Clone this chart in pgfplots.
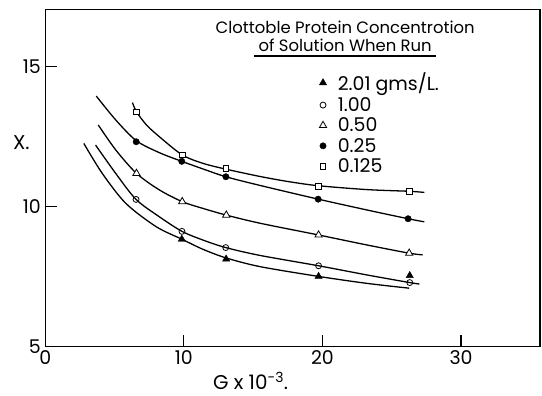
\documentclass[border=0pt]{standalone}
\usepackage{pgfplots}
\pgfplotsset{compat=1.18}
\usepackage{fontspec}
\setmainfont{Poppins}
\begin{document}
\begin{tikzpicture}
\begin{axis}[
  scale only axis, width=494.7bp, height=337.4bp,
  xmin=0, xmax=35.7, ymin=5, ymax=17.05,
  xtick={0,10,20,30}, ytick={5,10,15},
  tick pos=left, tick align=inside, major tick length=12bp,
  axis line style={line width=1.1pt},
  tick style={line width=1.1pt, black},
  ticklabel style={font=\fontsize{19}{19}\selectfont},
  yticklabel style={xshift=-1bp},
  /pgf/number format/assume math mode=true,
  xlabel={G x 10\textsuperscript{-3}.},
  xlabel style={font=\fontsize{20}{20}\selectfont, inner sep=0pt, at={(axis description cs:0.415,0)}, anchor=north, yshift=-25bp},
  ylabel={X.},
  ylabel style={font=\fontsize{20}{20}\selectfont, rotate=-90, at={(axis description cs:0,0.605)}, anchor=center, xshift=-24bp},
  legend style={at={(axis cs:19.72,14.85)}, anchor=north west, draw=none, fill=none,
    font=\fontsize{19}{21}\selectfont, inner sep=0pt, row sep=1pt},
  legend cell align=left,
  legend image code/.code={\draw[#1, only marks] plot coordinates {(0.15cm,0cm)}; \path[draw=none, fill=none] (0cm,0cm) -- (0.60cm,0cm);},
  clip=false,
]
% fitted curves
\addplot[black, line width=1.3pt, smooth, forget plot] coordinates {
(6.29,13.72)(6.58,13.39)(7.3,12.92)(8.23,12.50)(9.88,11.85)(11.37,11.55)(13.04,11.34)(15.49,11.08)(17.5,10.90)(19.69,10.75)(23.24,10.61)(26.27,10.55)(27.35,10.51)};
\addplot[black, line width=1.3pt, smooth, forget plot] coordinates {
(3.68,13.95)(5.08,13.10)(6.56,12.36)(8.23,11.93)(9.85,11.62)(11.37,11.35)(13.03,11.07)(15.49,10.76)(19.69,10.27)(23.24,9.88)(26.18,9.57)(27.35,9.46)};
\addplot[black, line width=1.3pt, smooth, forget plot] coordinates {
(3.82,12.92)(5.08,12.03)(6.58,11.19)(8.23,10.60)(9.88,10.18)(11.37,9.94)(13.06,9.70)(15.49,9.41)(19.72,8.99)(23.24,8.63)(26.26,8.34)(27.23,8.28)};
\addplot[black, line width=1.3pt, smooth, forget plot] coordinates {
(3.63,12.20)(5.08,11.19)(6.55,10.26)(8.23,9.64)(9.86,9.12)(11.37,8.81)(13.02,8.54)(15.49,8.26)(19.72,7.89)(23.24,7.56)(26.3,7.29)(26.99,7.24)};
\addplot[black, line width=1.3pt, smooth, forget plot] coordinates {
(2.78,12.26)(4.11,11.19)(5.81,10.12)(7.99,9.29)(9.85,8.84)(11.37,8.48)(13.05,8.17)(15.49,7.86)(19.72,7.51)(23.24,7.26)(26.26,7.09)};
% data points
\addplot[only marks, mark=triangle*, mark size=4.2pt, black] coordinates {
(9.85,8.84)(13.05,8.13)(19.72,7.51)(26.3,7.54)};
\addlegendentry{2.01 gms/L.}
\addplot[only marks, mark=o, mark size=3pt, black, mark options={fill=white, line width=0.8pt}] coordinates {
(6.55,10.26)(9.86,9.12)(13.02,8.54)(19.72,7.89)(26.3,7.29)};
\addlegendentry{1.00}
\addplot[only marks, mark=triangle*, mark size=4.2pt, black, mark options={fill=white, line width=0.8pt}] coordinates {
(6.58,11.19)(9.88,10.18)(13.06,9.70)(19.72,8.99)(26.26,8.34)};
\addlegendentry{0.50}
\addplot[only marks, mark=*, mark size=3.2pt, black] coordinates {
(6.56,12.32)(9.85,11.62)(13.03,11.07)(19.69,10.27)(26.18,9.57)};
\addlegendentry{0.25}
\addplot[only marks, mark=square*, mark size=2.8pt, black, mark options={fill=white, line width=0.8pt}] coordinates {
(6.58,13.39)(9.88,11.85)(13.04,11.36)(19.69,10.72)(26.27,10.55)};
\addlegendentry{0.125}
% title of legend
\node[font=\fontsize{16.5}{18.5}\selectfont, align=center, anchor=center] at (axis cs:21.64,16.08) {Clottoble Protein Concentrotion\\of Solution When Run};
\draw[line width=1.3pt] (axis cs:15.06,15.38) -- (axis cs:28.2,15.38);
% bounding box to match the reference margins
\path (rel axis cs:0,0) ++(-45.3bp,-49.3bp);
\path (rel axis cs:1,1) ++(2bp,9.3bp);
\end{axis}
\end{tikzpicture}
\end{document}
